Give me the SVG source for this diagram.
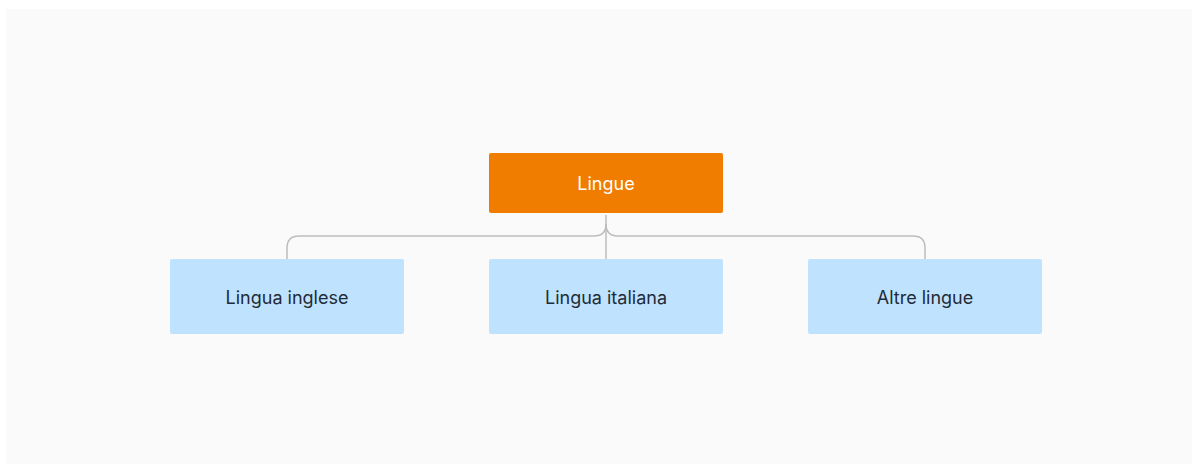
<svg xmlns="http://www.w3.org/2000/svg" width="1198" height="466" viewBox="0 0 1198 466">
<style>
.lbl{font-family:Inter,"Noto Sans","Liberation Sans",sans-serif;font-size:18px;text-anchor:middle;dominant-baseline:central}
.child rect{fill:#bfe3ff}
.child text{fill:#222b36}
.root rect{fill:#f07c00}
.root text{fill:#ffffff}
.conn path{fill:none;stroke:#bdbdbd;stroke-width:1.5}
</style>
<rect x="6" y="9" width="1186" height="455" fill="#fafafa"/>
<g id="connectors" class="conn">
<path d="M606 215 V259"/>
<path d="M287 259 V248 Q287 236 299 236 H594 Q606 236 606 224"/>
<path d="M925 259 V248 Q925 236 913 236 H618 Q606 236 606 224"/>
</g>
<g id="lingue" class="root">
<rect x="489" y="153" width="234" height="60" rx="2"/>
<text class="lbl" x="606" y="183">Lingue</text>
</g>
<g id="lingua-inglese" class="child">
<rect x="170" y="259" width="234" height="75" rx="2"/>
<text class="lbl" x="287" y="297">Lingua inglese</text>
</g>
<g id="lingua-italiana" class="child">
<rect x="489" y="259" width="234" height="75" rx="2"/>
<text class="lbl" x="606" y="297">Lingua italiana</text>
</g>
<g id="altre-lingue" class="child">
<rect x="808" y="259" width="234" height="75" rx="2"/>
<text class="lbl" x="925" y="297">Altre lingue</text>
</g>
</svg>
